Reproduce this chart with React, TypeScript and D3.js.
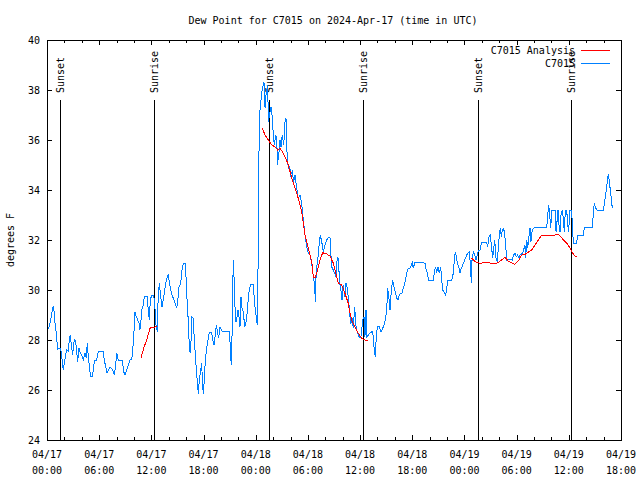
import React from "react";
import * as d3 from "d3";

const TITLE = "Dew Point for C7015 on 2024-Apr-17 (time in UTC)";
const Y_LABEL = "degrees F";
const START = Date.UTC(2024, 3, 17, 0, 0);
const SPAN_HOURS = 66;
const yTicks = [24, 26, 28, 30, 32, 34, 36, 38, 40];
const sunsetHours = [1.53, 25.56, 49.59];
const sunriseHours = [12.34, 36.37, 60.28];
const legendLabels = ["C7015 Analysis", "C7015"];

// observed dew point: [hours since 04/17 00:00 UTC, degrees F]
const observed: [number, number][] = [
  [0.15, 28.43], [0.34, 28.67], [0.61, 29.17], [0.72, 29.36], [0.84, 29.09], [0.92, 28.68], [1.07, 28.28], [1.18, 27.8],
  [1.23, 27.64], [1.58, 27.65], [1.69, 27.33], [1.87, 26.8], [1.99, 27.08], [2.15, 27.4], [2.27, 27.6], [2.45, 27.55],
  [2.56, 28.0], [2.68, 28.2], [2.84, 27.68], [2.95, 27.4], [3.07, 27.88], [3.18, 28.0], [3.3, 27.93], [3.41, 27.53],
  [3.53, 27.13], [3.68, 27.67], [3.79, 27.53], [3.99, 27.4], [4.17, 27.2], [4.37, 27.47], [4.52, 27.27], [4.63, 27.87],
  [4.75, 27.33], [4.91, 26.8], [5.02, 26.56], [5.25, 26.56], [5.37, 27.0], [5.52, 27.2], [5.71, 27.2], [5.9, 27.53],
  [6.47, 27.53], [6.59, 27.2], [6.78, 26.87], [6.9, 26.67], [7.05, 26.8], [7.24, 26.9], [7.44, 26.87], [7.62, 26.73],
  [7.74, 26.6], [7.9, 27.0], [8.01, 27.47], [8.13, 27.33], [8.2, 27.17], [8.66, 27.17], [8.82, 26.73], [8.97, 26.6],
  [9.16, 26.8], [9.35, 27.0], [9.54, 27.2], [9.74, 27.23], [9.85, 27.53], [10.0, 28.33], [10.12, 29.13], [10.27, 28.93],
  [10.43, 28.8], [10.58, 28.67], [10.69, 28.4], [10.81, 28.8], [10.89, 29.2], [11.07, 29.4], [11.19, 29.73], [11.5, 29.76],
  [11.65, 29.2], [11.76, 28.8], [11.88, 29.6], [12.04, 29.8], [12.27, 29.8], [12.38, 29.47], [12.53, 28.6], [12.68, 28.33],
  [12.76, 29.47], [12.91, 30.27], [13.07, 29.73], [13.22, 29.33], [13.37, 29.6], [13.53, 30.0], [13.68, 30.33], [13.83, 30.53],
  [13.95, 30.6], [14.06, 30.33], [14.22, 30.0], [14.37, 29.8], [14.52, 29.67], [14.72, 29.47], [14.91, 29.27], [15.03, 29.53],
  [15.18, 30.13], [15.37, 30.27], [15.52, 30.8], [15.67, 31.07], [15.9, 31.07], [16.02, 30.27], [16.13, 29.4], [16.29, 28.53],
  [16.36, 27.67], [16.48, 27.47], [16.59, 28.13], [16.67, 28.93], [16.79, 28.87], [16.9, 28.27], [17.02, 27.6], [17.13, 27.0],
  [17.25, 26.47], [17.4, 25.84], [17.51, 26.4], [17.67, 26.8], [17.79, 27.07], [17.86, 26.4], [17.97, 25.84], [18.09, 26.4],
  [18.2, 27.2], [18.36, 27.67], [18.51, 28.0], [18.66, 28.3], [18.94, 28.3], [19.05, 28.0], [19.2, 27.8], [19.35, 28.2],
  [19.47, 28.6], [19.63, 28.27], [19.74, 28.07], [19.89, 28.53], [20.04, 28.4], [20.16, 28.33], [20.96, 28.33], [21.04, 27.93],
  [21.12, 27.33], [21.19, 27.0], [21.27, 28.07], [21.35, 29.87], [21.42, 31.2], [21.5, 30.53], [21.62, 29.33], [21.73, 28.73],
  [21.85, 28.93], [21.96, 29.2], [22.08, 28.93], [22.19, 28.53], [22.31, 29.73], [22.42, 29.27], [22.57, 29.13], [22.73, 28.53],
  [22.88, 28.73], [23.03, 29.13], [23.19, 29.87], [23.34, 30.13], [23.49, 30.24], [23.72, 30.24], [23.84, 29.6], [23.95, 29.2],
  [24.11, 28.8], [24.18, 28.6], [24.26, 30.67], [24.34, 34.8], [24.46, 37.1], [24.69, 37.87], [24.8, 38.13], [24.95, 38.3],
  [25.03, 37.73], [25.07, 37.27], [25.18, 37.8], [25.38, 38.2], [25.45, 36.73], [25.64, 37.13], [25.76, 37.33], [25.91, 36.87],
  [26.02, 36.2], [26.14, 35.8], [26.3, 36.2], [26.41, 36.0], [26.53, 35.0], [26.59, 35.4], [26.68, 35.53], [26.79, 36.0],
  [26.91, 35.73], [27.05, 36.2], [27.22, 35.8], [27.37, 36.73], [27.48, 36.87], [27.56, 35.8], [27.63, 35.27], [27.75, 34.87],
  [27.91, 34.93], [28.02, 34.6], [28.2, 34.73], [28.37, 34.33], [28.52, 34.6], [28.71, 34.07], [28.89, 33.67], [29.09, 33.8],
  [29.28, 33.47], [29.47, 32.8], [29.66, 32.2], [29.86, 31.73], [30.04, 31.47], [30.24, 31.4], [30.44, 31.07], [30.62, 30.53],
  [30.78, 30.2], [30.85, 29.53], [30.96, 30.8], [31.13, 31.2], [31.27, 31.73], [31.42, 32.2], [31.59, 31.93], [31.77, 31.53],
  [31.97, 31.8], [32.16, 32.0], [32.34, 32.1], [32.54, 32.1], [32.73, 30.93], [32.92, 30.8], [33.08, 30.67], [33.23, 30.53],
  [33.38, 31.33], [33.54, 31.2], [33.61, 30.33], [33.77, 30.07], [33.92, 29.6], [34.07, 30.2], [34.23, 29.73], [34.38, 30.27],
  [34.53, 30.07], [34.69, 29.53], [34.84, 28.93], [34.95, 28.67], [35.1, 28.8], [35.22, 28.47], [35.38, 29.33], [35.49, 28.67],
  [35.61, 28.4], [35.79, 28.2], [35.99, 28.07], [36.14, 28.2], [36.3, 28.8], [36.45, 28.93], [36.56, 28.13], [36.68, 29.2],
  [36.79, 28.13], [36.94, 28.2], [37.14, 28.27], [37.33, 28.33], [37.45, 28.33], [37.6, 27.73], [37.75, 27.33], [37.86, 28.13],
  [37.98, 28.53], [38.21, 28.53], [38.4, 28.33], [38.6, 28.47], [38.75, 28.6], [38.9, 28.8], [39.06, 29.2], [39.17, 30.07],
  [39.32, 29.67], [39.44, 29.2], [39.59, 30.0], [39.75, 30.4], [39.9, 30.13], [40.05, 29.93], [40.21, 29.67], [40.36, 29.6],
  [40.51, 29.8], [40.67, 29.87], [40.82, 29.87], [40.97, 30.07], [41.13, 30.27], [41.28, 30.53], [41.43, 30.8], [41.59, 30.87],
  [41.74, 30.87], [41.89, 31.0], [42.0, 31.09], [42.12, 30.87], [42.28, 31.09], [43.27, 31.09], [43.46, 31.07], [43.58, 30.83],
  [43.73, 30.67], [43.89, 30.4], [44.42, 30.4], [44.53, 30.67], [44.65, 30.93], [44.81, 30.73], [44.96, 30.93], [45.11, 30.67],
  [45.27, 30.93], [45.38, 30.4], [45.5, 30.0], [45.65, 29.93], [45.8, 29.8], [45.91, 29.93], [46.07, 30.4], [46.53, 30.4],
  [46.72, 30.67], [46.83, 31.2], [46.95, 31.53], [47.06, 31.33], [47.18, 31.07], [47.34, 30.93], [47.49, 30.67], [47.64, 30.87],
  [47.8, 31.0], [47.95, 31.13], [48.1, 31.27], [48.26, 31.4], [48.41, 31.49], [48.56, 31.53], [48.67, 31.07], [48.79, 30.27],
  [48.87, 31.2], [49.02, 31.53], [49.18, 31.4], [49.33, 31.2], [49.48, 31.4], [49.6, 31.56], [49.79, 31.6], [49.98, 31.91],
  [50.56, 31.91], [50.67, 31.73], [50.82, 32.13], [50.97, 32.2], [51.13, 31.67], [51.25, 31.27], [51.36, 31.67], [51.48, 32.0],
  [51.63, 31.27], [51.78, 31.13], [51.89, 31.67], [52.01, 32.2], [52.12, 32.47], [52.24, 32.13], [52.35, 32.4], [52.51, 32.47],
  [52.63, 32.2], [52.74, 31.8], [52.86, 31.2], [53.04, 31.2], [53.24, 31.24], [53.5, 31.2], [53.66, 31.4], [53.81, 31.47],
  [53.96, 31.33], [54.12, 31.4], [54.27, 31.27], [54.42, 31.43], [54.58, 31.43], [54.77, 31.56], [54.96, 31.8], [55.04, 31.27],
  [55.16, 32.0], [55.27, 31.67], [55.42, 32.13], [55.54, 32.47], [55.65, 31.93], [55.8, 32.4], [55.92, 32.47], [56.03, 32.49],
  [57.46, 32.49], [57.57, 33.0], [57.69, 33.4], [57.8, 33.0], [57.92, 32.47], [58.03, 33.2], [58.41, 33.2], [58.53, 32.33],
  [58.64, 32.73], [58.76, 33.2], [58.87, 32.6], [58.99, 32.33], [59.1, 33.0], [59.25, 33.2], [59.36, 32.87], [59.48, 32.33],
  [59.6, 33.2], [59.76, 33.2], [59.87, 32.6], [59.99, 32.33], [60.1, 33.2], [60.25, 33.2], [60.37, 32.87], [60.45, 32.2],
  [60.59, 31.87], [60.9, 31.87], [61.02, 32.2], [61.66, 32.2], [61.78, 32.49], [62.7, 32.49], [62.81, 33.0], [62.93, 33.47],
  [63.09, 33.27], [63.24, 33.2], [63.96, 33.2], [64.08, 33.4], [64.19, 33.73], [64.31, 34.0], [64.42, 34.33], [64.54, 34.63],
  [64.66, 34.33], [64.77, 34.0], [64.88, 33.67], [65.0, 33.27],
];

// analysis dew point segments
const analysisApr17: [number, number][] = [
  [10.81, 27.3], [11.15, 27.7], [11.5, 28.05], [11.88, 28.5], [12.69, 28.53],
];
const analysisApr18: [number, number][] = [
  [24.76, 36.47], [25.07, 36.2], [25.45, 36.0], [25.84, 35.8], [26.22, 35.73], [26.53, 35.6], [26.79, 35.67], [27.17, 35.47],
  [27.45, 35.27], [27.75, 35.0], [28.14, 34.47], [28.52, 34.07], [28.89, 33.67], [29.28, 33.13], [29.66, 32.2], [30.04, 31.67],
  [30.44, 31.13], [30.62, 30.53], [30.82, 30.47], [31.01, 30.67], [31.39, 31.2], [31.7, 31.49], [32.16, 31.44], [32.54, 31.36],
  [32.92, 31.07], [33.11, 30.8], [33.31, 30.53], [33.49, 30.27], [33.88, 30.2], [34.26, 29.87], [34.64, 29.47], [34.84, 29.07],
  [35.03, 28.8], [35.41, 28.53], [35.79, 28.27], [36.18, 28.07], [36.56, 28.0], [36.94, 27.97],
];
const analysisApr19: [number, number][] = [
  [48.83, 31.27], [49.1, 31.17], [49.41, 31.1], [49.79, 31.07], [50.17, 31.09], [50.74, 31.09], [51.13, 31.07], [51.51, 31.04],
  [51.89, 31.1], [52.28, 31.2], [52.66, 31.3], [53.04, 31.16], [53.5, 31.07], [53.81, 31.03], [54.19, 31.16], [54.58, 31.4],
  [54.96, 31.43], [55.34, 31.51], [55.73, 31.6], [56.11, 31.8], [56.49, 32.0], [56.88, 32.19], [57.26, 32.19], [57.64, 32.16],
  [58.03, 32.2], [58.41, 32.2], [58.79, 32.23], [59.1, 32.13], [59.36, 32.0], [59.76, 31.87], [60.14, 31.69], [60.33, 31.56],
  [60.52, 31.43], [60.71, 31.36], [60.97, 31.36],
];

const BLUE = "#0080ff";
const RED = "#ff0000";
const FONT = "'DejaVu Sans Mono', 'Liberation Mono', monospace";

export default function App() {
  const W = 640;
  const H = 480;
  const L = 47, R = 621, T = 40, B = 440;
  const t = (h: number) => new Date(START + h * 3600e3);
  const x = d3.scaleUtc().domain([t(0), t(SPAN_HOURS)]).range([L, R]);
  const y = d3.scaleLinear().domain([24, 40]).range([B, T]);
  const major = x.ticks(d3.utcHour.every(6)!);
  const minor = x.ticks(d3.utcHour.every(2)!).filter((d) => d.getUTCHours() % 6 !== 0);
  const fmtDate = d3.utcFormat("%m/%d");
  const fmtTime = d3.utcFormat("%H:%M");
  const line = d3
    .line<[number, number]>()
    .x((d) => x(t(d[0])))
    .y((d) => y(d[1]));
  const px = (v: number) => Math.round(v) + 0.5;

  const sunLines = [
    ...sunsetHours.map((h) => ({ h, label: "Sunset" })),
    ...sunriseHours.map((h) => ({ h, label: "Sunrise" })),
  ];

  return (
    <svg
      width={W}
      height={H}
      style={{ position: "absolute", left: 0, top: 0, background: "#fff" }}
      fontFamily={FONT}
      fontSize={10}
    >
      <rect x={0} y={0} width={W} height={H} fill="#fff" />
      <text x={333} y={24} textAnchor="middle" fill="#000">
        {TITLE}
      </text>
      <text transform={`translate(14,240) rotate(-90)`} textAnchor="middle" fill="#000">
        {Y_LABEL}
      </text>

      {/* y ticks */}
      {yTicks.map((v) => (
        <g key={"y" + v}>
          <line x1={L} x2={L + 5} y1={px(y(v))} y2={px(y(v))} stroke="#000" shapeRendering="crispEdges" />
          <line x1={R - 5} x2={R} y1={px(y(v))} y2={px(y(v))} stroke="#000" shapeRendering="crispEdges" />
          <text x={40} y={y(v) + 4} textAnchor="end" fill="#000">
            {v}
          </text>
        </g>
      ))}

      {/* x ticks */}
      {major.map((d, i) => (
        <g key={"xm" + i}>
          <line x1={px(x(d))} x2={px(x(d))} y1={B} y2={B - 5} stroke="#000" shapeRendering="crispEdges" />
          <line x1={px(x(d))} x2={px(x(d))} y1={T} y2={T + 5} stroke="#000" shapeRendering="crispEdges" />
          <text x={x(d)} y={458} textAnchor="middle" fill="#000">
            {fmtDate(d)}
          </text>
          <text x={x(d)} y={474} textAnchor="middle" fill="#000">
            {fmtTime(d)}
          </text>
        </g>
      ))}
      {minor.map((d, i) => (
        <g key={"xn" + i}>
          <line x1={px(x(d))} x2={px(x(d))} y1={B} y2={B - 3} stroke="#000" shapeRendering="crispEdges" />
          <line x1={px(x(d))} x2={px(x(d))} y1={T} y2={T + 3} stroke="#000" shapeRendering="crispEdges" />
        </g>
      ))}

      {/* sunrise / sunset markers */}
      {sunLines.map((s, i) => (
        <g key={"s" + i}>
          <line
            x1={px(x(t(s.h)))}
            x2={px(x(t(s.h)))}
            y1={100}
            y2={B}
            stroke="#000"
            shapeRendering="crispEdges"
          />
          <text transform={`translate(${x(t(s.h)) + 4},93) rotate(-90)`} textAnchor="start" fill="#000">
            {s.label}
          </text>
        </g>
      ))}

      {/* data */}
      <path d={line(observed) || ""} fill="none" stroke={BLUE} strokeWidth={1} shapeRendering="crispEdges" />
      {[analysisApr17, analysisApr18, analysisApr19].map((seg, i) => (
        <path key={"a" + i} d={line(seg) || ""} fill="none" stroke={RED} strokeWidth={1} shapeRendering="crispEdges" />
      ))}

      {/* border */}
      <rect x={L + 0.5} y={T + 0.5} width={R - L} height={B - T} fill="none" stroke="#000" shapeRendering="crispEdges" />

      {/* legend */}
      <text x={575} y={54} textAnchor="end" fill="#000">
        {legendLabels[0]}
      </text>
      <line x1={581} x2={610} y1={50.5} y2={50.5} stroke={RED} shapeRendering="crispEdges" />
      <text x={575} y={66.5} textAnchor="end" fill="#000">
        {legendLabels[1]}
      </text>
      <line x1={581} x2={610} y1={63} y2={63} stroke={BLUE} shapeRendering="crispEdges" />
    </svg>
  );
}
